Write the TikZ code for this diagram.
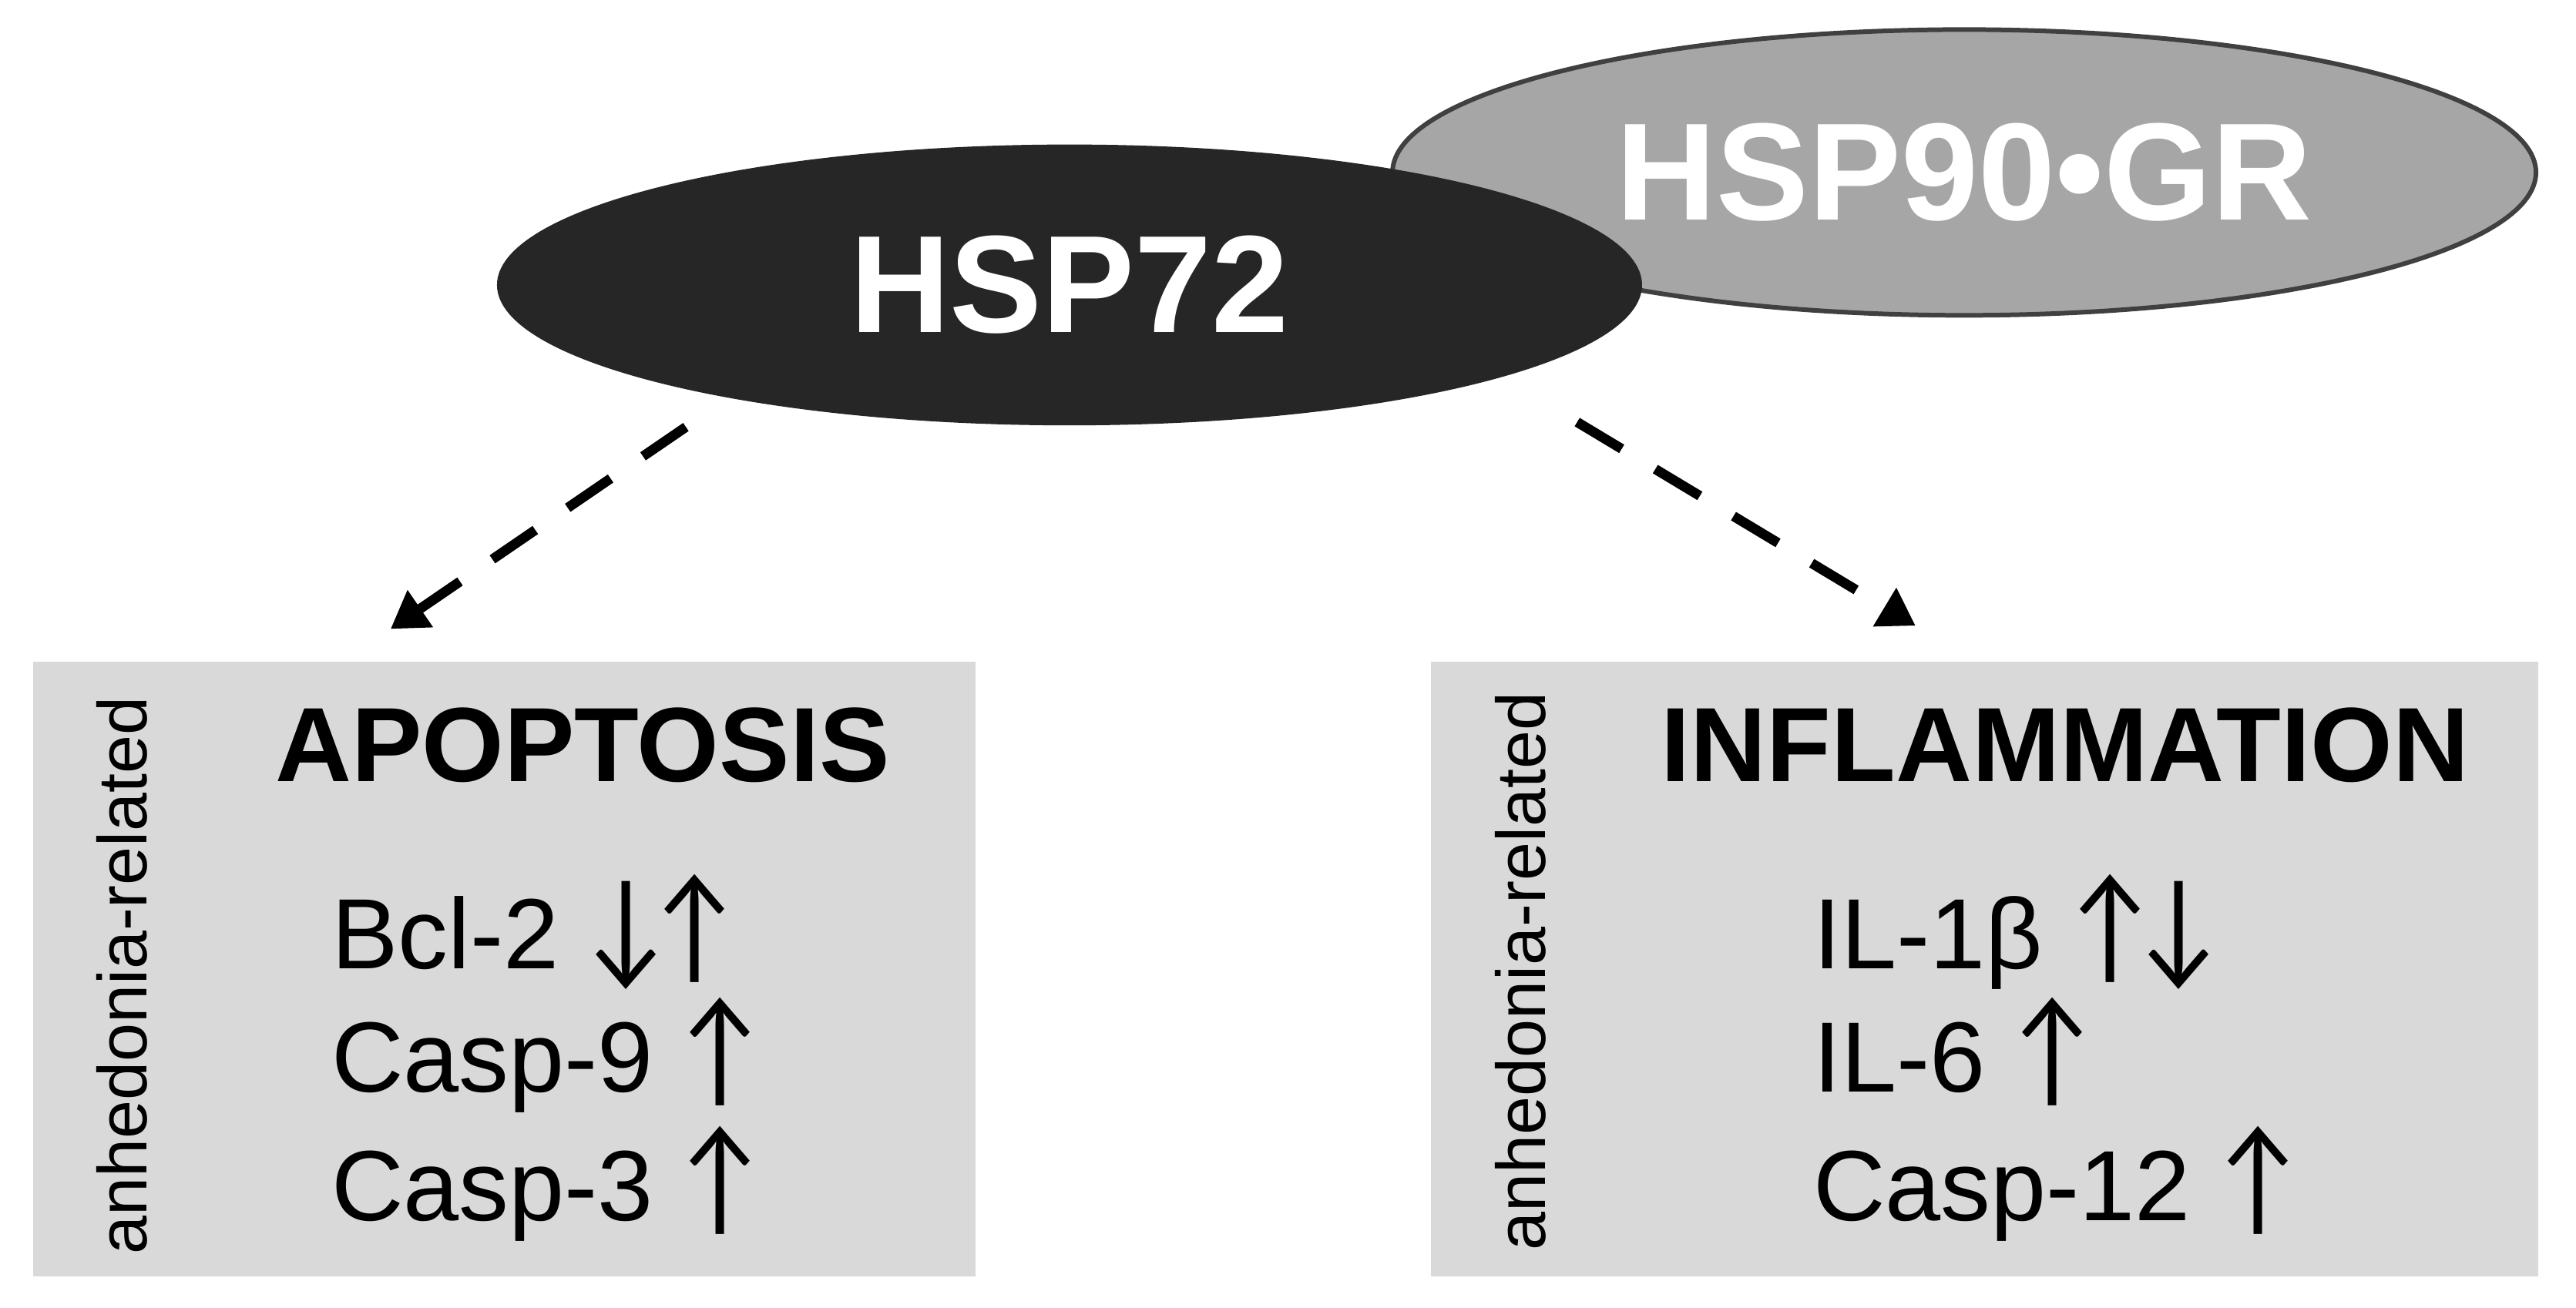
\documentclass[tikz,border=0pt]{standalone}
\usepackage{fontspec}
\usepackage{graphicx}
\setmainfont{Liberation Sans}
\newfontfamily\arrowfont{Lato}
\usetikzlibrary{arrows.meta,shapes.geometric}
\definecolor{boxgray}{HTML}{D9D9D9}
\definecolor{hspdark}{HTML}{262626}
\definecolor{hspgray}{HTML}{A6A6A6}
\definecolor{rimgray}{HTML}{404040}
\newcommand{\upmark}{\scalebox{1.05}[1.22]{\arrowfont ↑}}
\newcommand{\downmark}{\scalebox{1.05}[1.22]{\arrowfont ↓}}
\begin{document}
\begin{tikzpicture}[
	blob/.style={ellipse, inner sep=0pt, minimum width=6.97cm, minimum height=1.71cm, text=white, font=\bfseries\fontsize{24}{28}\selectfont},
	panel/.style={rectangle, fill=boxgray, inner sep=0pt, minimum height=3.74cm},
	head/.style={inner sep=0pt, anchor=base, font=\bfseries\fontsize{18.3}{22}\selectfont},
	item/.style={inner sep=0pt, anchor=base west, font=\fontsize{17.3}{20}\selectfont},
	side/.style={inner sep=0pt, rotate=90, font=\fontsize{12}{14}\selectfont},
	dasharrow/.style={line width=1.7pt, dash pattern=on 9pt off 6.8pt, -{Triangle[width=0.26cm,length=0.22cm]}}]
	\useasboundingbox (0,0) rectangle (15.68,-7.964);
	% the two chaperones
	\node[blob, fill=hspgray, draw=rimgray, line width=0.8pt, minimum width=6.96cm, minimum height=1.74cm] (hsp90) at (11.956,-1.05) {HSP90•GR};
	\node[blob, fill=hspdark] (hsp72) at (6.51,-1.735) {HSP72};
	% panels
	\node[panel, minimum width=5.74cm] (apobox) at (3.07,-5.90) {};
	\node[panel, minimum width=6.74cm] (inflbox) at (12.08,-5.90) {};
	\node[side] (aposide) at (0.743,-5.94) {anhedonia-related};
	\node[side] (inflside) at (9.255,-5.915) {anhedonia-related};
	\node[head] (apohead) at (3.545,-4.76) {APOPTOSIS};
	\node[head] (inflhead) at (12.57,-4.76) {INFLAMMATION};
	\node[item] (bcl) at (2.01,-5.90) {Bcl-2 \downmark\kern-0.1em\upmark};
	\node[item] (casp9) at (2.01,-6.65) {Casp-9 \upmark};
	\node[item] (casp3) at (2.01,-7.43) {Casp-3 \upmark};
	\node[item] (ilb) at (11.03,-5.90) {IL-1β \upmark\kern-0.1em\downmark};
	\node[item] (ilsix) at (11.03,-6.65) {IL-6 \upmark};
	\node[item] (casp12) at (11.03,-7.43) {Casp-12 \upmark};
	% dashed links
	\coordinate (apofrom) at (4.175,-2.60);
	\coordinate (apoto) at (2.377,-3.83);
	\coordinate (inflfrom) at (9.60,-2.57);
	\coordinate (inflto) at (11.66,-3.81);
	\draw[dasharrow] (apofrom) -- (apoto);
	\draw[dasharrow] (inflfrom) -- (inflto);
\end{tikzpicture}
\end{document}
